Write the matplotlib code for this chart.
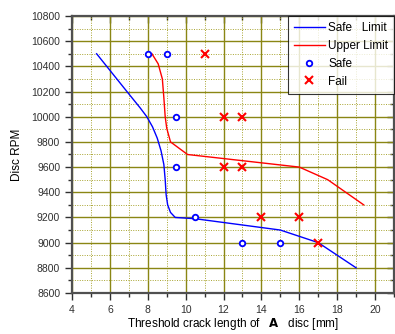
import numpy as np
import matplotlib
matplotlib.use("Agg")
from matplotlib import pyplot as plt
from matplotlib.ticker import MultipleLocator

plt.rcParams['font.family'] = ['Liberation Sans', 'DejaVu Sans']

# safe limit curve
safe_lim_x = [5.3, 6.9, 7.6, 7.95, 8.25, 8.5, 8.7, 8.85, 8.92, 8.97, 9.05, 9.2, 9.45, 10.5, 15.0, 17.0, 19.0]
safe_lim_y = [10500, 10200, 10070, 10000, 9920, 9830, 9730, 9620, 9500, 9380, 9300, 9240, 9200, 9190, 9100, 9000, 8800]

# upper limit curve
upper_x = [8.22, 8.55, 8.77, 8.85, 8.92, 9.0, 9.2, 10.1, 16.0, 17.5, 19.4]
upper_y = [10500, 10420, 10300, 10150, 10000, 9910, 9800, 9700, 9600, 9500, 9300]

# test points
safe_x = [8, 9, 9.5, 9.5, 10.5, 13, 15]
safe_y = [10500, 10500, 10000, 9600, 9200, 9000, 9000]
fail_x = [11, 12, 13, 12, 13, 14, 16, 17]
fail_y = [10500, 10000, 10000, 9600, 9600, 9200, 9200, 9000]

fig = plt.figure(figsize=(3.95, 3.34), dpi=100)
ax = fig.add_axes([72/395, 1 - 293/334, (394 - 72)/395, (293 - 16)/334])

ax.plot(safe_lim_x, safe_lim_y, color='blue', lw=1.0, label='Safe   Limit')
ax.plot(upper_x, upper_y, color='red', lw=1.0, label='Upper Limit')
ax.plot(safe_x, safe_y, 'o', ls='none', mfc='white', mec='blue', mew=1.3, ms=4, label='Safe')
ax.plot(fail_x, fail_y, 'x', ls='none', color='red', mew=1.5, ms=5.5, label='Fail')

ax.set_xlim(4, 21)
ax.set_ylim(8600, 10800)
ax.xaxis.set_major_locator(MultipleLocator(2))
ax.xaxis.set_minor_locator(MultipleLocator(1))
ax.yaxis.set_major_locator(MultipleLocator(200))
ax.yaxis.set_minor_locator(MultipleLocator(100))

ax.grid(which='major', color='#8a8614', lw=1.0, ls='-')
ax.grid(which='minor', color='#a8a430', lw=0.7, ls=(0, (1, 1.5)))
ax.set_axisbelow(True)

for s in ax.spines.values():
    s.set_color('#505050')
    s.set_linewidth(1.6)

ax.tick_params(which='both', direction='out', colors='#303030', labelsize=7.5, width=1.0,
               top=False, right=False)
ax.tick_params(which='major', length=5)
ax.tick_params(which='minor', length=3)
# inward ticks on top and right
ax2 = ax.secondary_xaxis('top')
ax2.xaxis.set_major_locator(MultipleLocator(2))
ax2.xaxis.set_minor_locator(MultipleLocator(1))
ax2.tick_params(which='both', direction='in', labeltop=False, width=1.0, colors='#303030')
ax2.tick_params(which='major', length=5)
ax2.tick_params(which='minor', length=3)
ax2.spines['top'].set_visible(False)
ax3 = ax.secondary_yaxis('right')
ax3.yaxis.set_major_locator(MultipleLocator(200))
ax3.yaxis.set_minor_locator(MultipleLocator(100))
ax3.tick_params(which='both', direction='in', labelright=False, width=1.0, colors='#303030')
ax3.tick_params(which='major', length=5)
ax3.tick_params(which='minor', length=3)
ax3.spines['right'].set_visible(False)

ax.set_xlabel('Threshold crack length of   $\\mathbf{A}$   disc [mm]', fontsize=8.5, labelpad=1)
ax.set_ylabel('Disc RPM', fontsize=8.5, labelpad=6)

leg = ax.legend(loc='upper right', fontsize=8.5, frameon=True, fancybox=False,
                borderaxespad=0, handlelength=2.6, handletextpad=0.3,
                labelspacing=0.5, borderpad=0.5)
leg.get_frame().set_edgecolor('black')
leg.get_frame().set_linewidth(0.8)

fig.savefig('out.png', dpi=100)
